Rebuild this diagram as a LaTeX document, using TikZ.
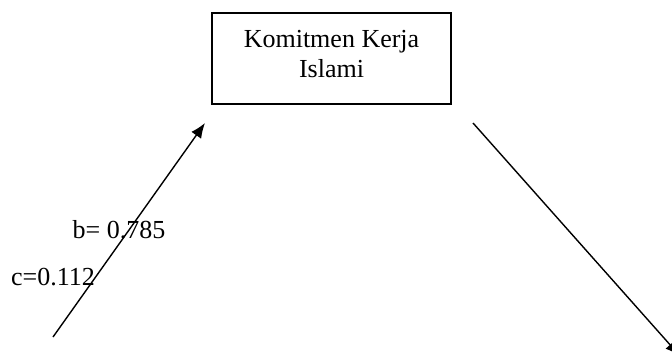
\documentclass[tikz,border=0pt]{standalone}
\usepackage{fontspec}
\setmainfont{Liberation Serif}
\usetikzlibrary{arrows.meta,positioning}

\begin{document}
\begin{tikzpicture}[x=0.5pt, y=-0.5pt, font=\fontsize{13}{15}\selectfont, >={Latex[length=7.5pt,width=6pt]}, line width=0.7pt]
\useasboundingbox (0,0) rectangle (672,352);
\node[draw, minimum width=119.5pt, minimum height=45.5pt, inner sep=0pt](box) at (331.5,58.5) {};
\node[align=center, inner sep=0pt](boxtext) at (331.5,54) {Komitmen Kerja\\Islami};
\coordinate (left) at (53,337);
\coordinate (lefttip) at (205,123);
\coordinate (right) at (473,123);
\coordinate (righttip) at (680,356);
\draw[->] (left) -- (lefttip);
\draw[->] (right) -- (righttip);
\node[inner sep=0pt](b) at (119,230) {b= 0.785};
\node[inner sep=0pt](c) at (53,277) {c=0.112};
\end{tikzpicture}
\end{document}
